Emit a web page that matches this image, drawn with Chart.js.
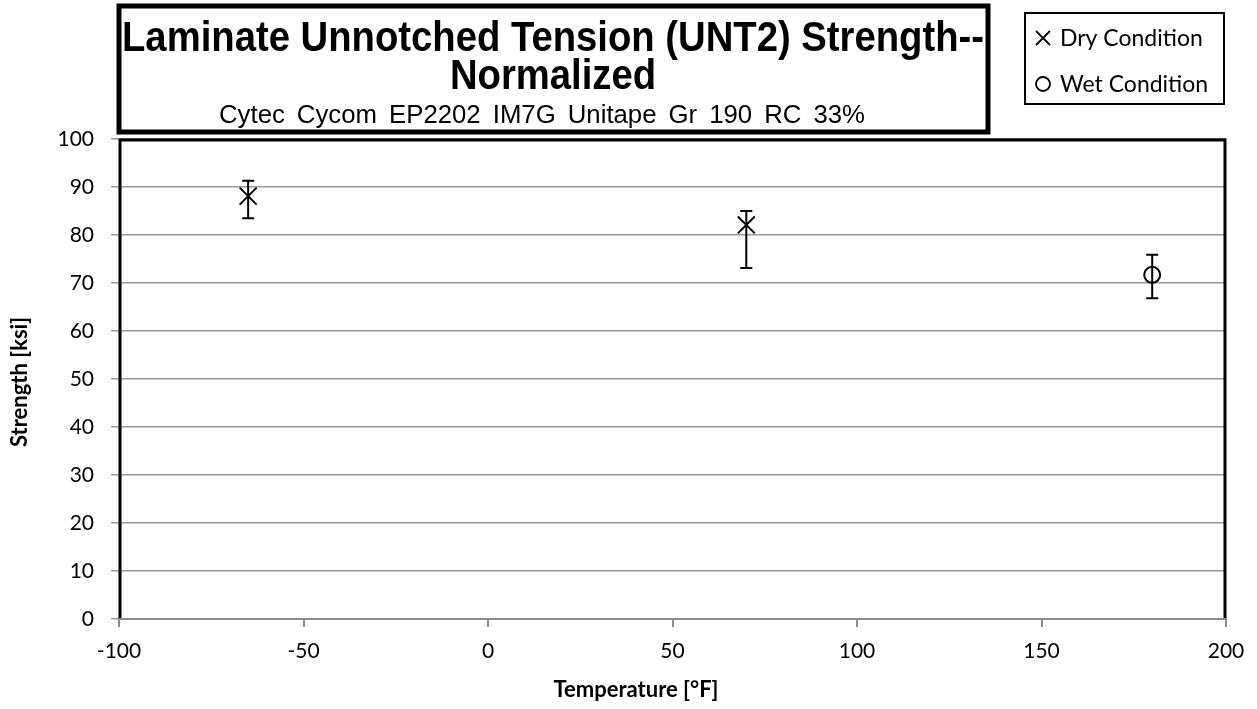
<!DOCTYPE html>
<html>
<head>
<meta charset="utf-8">
<script src="https://cdn.jsdelivr.net/npm/chart.js@4"></script>
<style>
  html, body { margin: 0; padding: 0; background: #fff; }
  #wrap { width: 1257px; height: 709px; }
</style>
</head>
<body>
<div id="wrap"><canvas id="myChart" width="1257" height="709"></canvas></div>
<script>
// values
var dryTemp = [-65, 70];
var dryMean = [88.1, 82.1];
var dryHigh = [91.3, 85.0];
var dryLow  = [83.5, 73.1];

var wetTemp = [180];
var wetMean = [71.7];
var wetHigh = [75.9];
var wetLow  = [66.8];

var titleLines = ["Laminate Unnotched Tension (UNT2) Strength--", "Normalized"];
var subTitle = "Cytec Cycom EP2202 IM7G Unitape Gr 190 RC 33%";
var legendLabels = ["Dry Condition", "Wet Condition"];
var xTitle = "Temperature [\u00B0F]";
var yTitle = "Strength [ksi]";

var tickFont = "Lato, 'Open Sans', sans-serif";

function toPoints(xs, ys, hi, lo) {
  var pts = [];
  for (var i = 0; i < xs.length; i++) {
    pts.push({x: xs[i], y: ys[i], hi: hi[i], lo: lo[i]});
  }
  return pts;
}

// draw text squeezed horizontally (narrow font look)
function squeezeText(ctx, txt, cx, cy, sx) {
  ctx.save();
  ctx.translate(cx, cy);
  ctx.scale(sx, 1);
  ctx.fillText(txt, 0, 0);
  ctx.restore();
}

// subtitle: words spread over a given width
function spreadWords(ctx, txt, left, cy, w, sx) {
  var words = txt.split(" ");
  var total = 0;
  words.forEach(function(wd) { total += ctx.measureText(wd).width * sx; });
  var gap = (w - total) / (words.length - 1);
  var x = left;
  ctx.save();
  ctx.textAlign = "left";
  words.forEach(function(wd) {
    ctx.save();
    ctx.translate(x, cy);
    ctx.scale(sx, 1);
    ctx.fillText(wd, 0, 0);
    ctx.restore();
    x += ctx.measureText(wd).width * sx + gap;
  });
  ctx.restore();
}

// error bars under the markers
var errorBars = {
  id: "errorBars",
  beforeDatasetsDraw: function(chart) {
    var ctx = chart.ctx;
    var xs = chart.scales.x, ys = chart.scales.y;
    ctx.save();
    ctx.strokeStyle = "#000";
    ctx.lineWidth = 2;
    chart.data.datasets.forEach(function(ds) {
      ds.data.forEach(function(p) {
        var px = xs.getPixelForValue(p.x);
        var top = ys.getPixelForValue(p.hi);
        var bot = ys.getPixelForValue(p.lo);
        ctx.beginPath();
        ctx.moveTo(px, top); ctx.lineTo(px, bot);
        ctx.moveTo(px - 6, top); ctx.lineTo(px + 6, top);
        ctx.moveTo(px - 6, bot); ctx.lineTo(px + 6, bot);
        ctx.stroke();
      });
    });
    ctx.restore();
  }
};

// plot frame, title box, legend box, axis titles
var decor = {
  id: "decor",
  afterDraw: function(chart) {
    var ctx = chart.ctx;
    var a = chart.chartArea;
    ctx.save();

    // frame of the plot area
    ctx.strokeStyle = "#000";
    ctx.lineWidth = 3;
    ctx.beginPath();
    ctx.moveTo(a.left + 1, a.bottom);
    ctx.lineTo(a.left + 1, a.top + 1);
    ctx.lineTo(a.right - 1, a.top + 1);
    ctx.lineTo(a.right - 1, a.bottom);
    ctx.stroke();
    ctx.strokeStyle = "#8c8c8c";
    ctx.lineWidth = 2;
    ctx.beginPath();
    ctx.moveTo(a.left, a.bottom); ctx.lineTo(a.right, a.bottom);
    ctx.stroke();

    // title box
    ctx.fillStyle = "#fff";
    ctx.fillRect(116, 3, 875, 132);
    ctx.strokeStyle = "#000";
    ctx.lineWidth = 5;
    ctx.strokeRect(119, 6, 869, 126);
    ctx.fillStyle = "#000";
    ctx.textAlign = "center";
    ctx.textBaseline = "middle";
    ctx.font = "bold 42px 'Liberation Sans', Arial, sans-serif";
    var sx = 862 / ctx.measureText(titleLines[0]).width;
    squeezeText(ctx, titleLines[0], 553, 39, sx);
    squeezeText(ctx, titleLines[1], 553, 77, sx);
    ctx.font = "25px 'Liberation Sans', Arial, sans-serif";
    spreadWords(ctx, subTitle, 219, 116, 646, 1.03);

    // legend box
    ctx.lineWidth = 2;
    ctx.strokeRect(1025, 13, 199, 91);
    ctx.lineWidth = 1.8;
    ctx.beginPath();
    ctx.moveTo(1036, 31); ctx.lineTo(1050, 45);
    ctx.moveTo(1050, 31); ctx.lineTo(1036, 45);
    ctx.stroke();
    ctx.beginPath();
    ctx.arc(1043, 84, 7, 0, Math.PI * 2);
    ctx.stroke();
    ctx.textAlign = "left";
    ctx.font = "23px " + tickFont;
    ctx.fillText(legendLabels[0], 1060, 39);
    ctx.fillText(legendLabels[1], 1060, 85);

    // axis titles
    ctx.font = "bold 22px " + tickFont;
    ctx.textAlign = "center";
    ctx.fillText(xTitle, 636, 690);
    ctx.translate(20, 382);
    ctx.rotate(-Math.PI / 2);
    ctx.fillText(yTitle, 0, 0);
    ctx.restore();
  }
};

var ctx = document.getElementById("myChart").getContext("2d");
var chart = new Chart(ctx, {
  type: "scatter",
  data: {
    datasets: [
      {
        label: legendLabels[0],
        data: toPoints(dryTemp, dryMean, dryHigh, dryLow),
        pointStyle: "crossRot",
        pointRadius: 12,
        pointBorderWidth: 2,
        borderColor: "#000",
        backgroundColor: "#000"
      },
      {
        label: legendLabels[1],
        data: toPoints(wetTemp, wetMean, wetHigh, wetLow),
        pointStyle: "circle",
        pointRadius: 8,
        pointBorderWidth: 2,
        borderColor: "#000",
        backgroundColor: "rgba(0,0,0,0)"
      }
    ]
  },
  options: {
    responsive: false,
    animation: false,
    layout: { padding: { top: 139, right: 31, left: 0, bottom: 0 } },
    plugins: {
      legend: { display: false },
      title: { display: false },
      tooltip: { enabled: false }
    },
    scales: {
      x: {
        type: "linear",
        min: -100, max: 200,
        afterFit: function(s) { s.height = 90; },
        ticks: { stepSize: 50, color: "#000", padding: 12, font: { family: tickFont, size: 21 } },
        grid: { drawOnChartArea: false, color: "#8c8c8c", lineWidth: 2, tickLength: 8 },
        border: { display: false }
      },
      y: {
        min: 0, max: 100,
        afterFit: function(s) { s.width = 119; },
        ticks: { stepSize: 10, color: "#000", padding: 17, font: { family: tickFont, size: 21 } },
        grid: { color: "#999", lineWidth: 1.5, tickLength: 8 },
        border: { display: false }
      }
    }
  },
  plugins: [errorBars, decor]
});
</script>
</body>
</html>
